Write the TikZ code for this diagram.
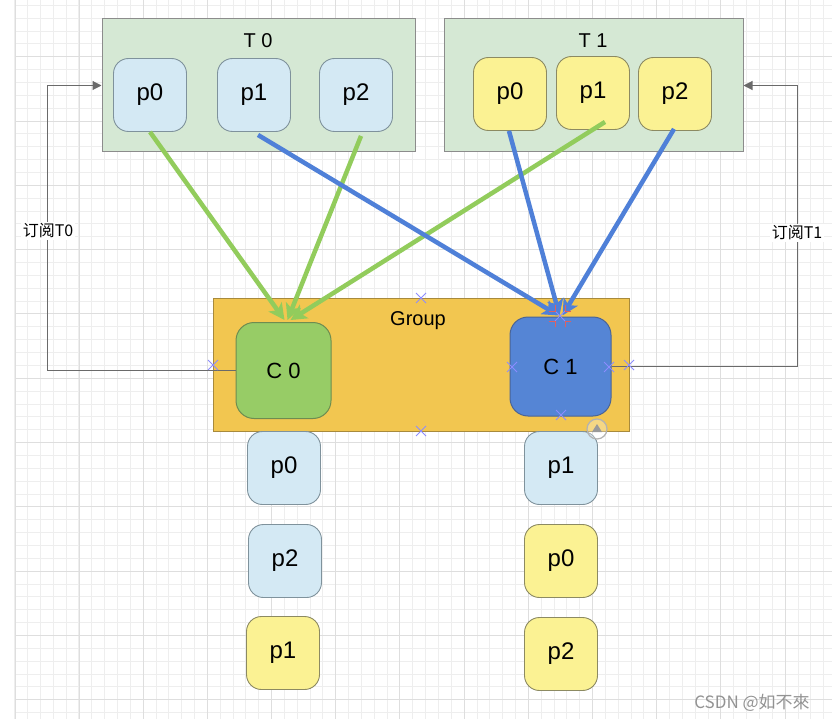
\documentclass[tikz,border=0pt]{standalone}
\usepackage{fontspec}
\setmainfont{Liberation Sans}
\newfontfamily\cjk{Noto Sans CJK SC}
\usetikzlibrary{arrows.meta,calc}
\definecolor{tfill}{HTML}{D5E8D4}
\definecolor{tline}{HTML}{8C8C8C}
\definecolor{pbluefill}{HTML}{D4E9F4}
\definecolor{pblueline}{HTML}{7F929C}
\definecolor{pyelfill}{HTML}{FBF293}
\definecolor{pyelline}{HTML}{8C8A62}
\definecolor{grpfill}{HTML}{F2C650}
\definecolor{grpline}{HTML}{A88A3C}
\definecolor{cgfill}{HTML}{97CC66}
\definecolor{cgline}{HTML}{6E8C50}
\definecolor{cbfill}{HTML}{5585D5}
\definecolor{cbline}{HTML}{4A6496}
\definecolor{garrow}{HTML}{92CC5C}
\definecolor{barrow}{HTML}{4F80D8}
\definecolor{gridminor}{HTML}{EEEEEE}
\definecolor{gridmajor}{HTML}{DEDEDE}
\definecolor{subline}{HTML}{6A6A6A}
\definecolor{selmark}{HTML}{8C8CFF}
\definecolor{selred}{HTML}{E06060}
\begin{document}
\begin{tikzpicture}[x=1pt,y=-1pt,
  tbox/.style={draw=tline,fill=tfill,line width=1pt,minimum width=#1,minimum height=133pt,inner sep=0pt},
  pbase/.style={rounded corners=15pt,line width=0.9pt,minimum width=73pt,minimum height=73pt,inner sep=0pt,font=\fontsize{24}{28}\selectfont},
  pblue/.style={pbase,draw=pblueline,fill=pbluefill},
  pyel/.style={pbase,draw=pyelline,fill=pyelfill},
  titletext/.style={font=\fontsize{20}{24}\selectfont,inner sep=0pt},
  grp/.style={draw=grpline,fill=grpfill,line width=1pt,minimum width=416pt,minimum height=133pt,inner sep=0pt},
  cons/.style={rounded corners=18pt,line width=1pt,minimum height=96pt,inner sep=0pt,font=\fontsize{22}{26}\selectfont},
  garr/.style={draw=garrow,line width=4.5pt,-{Stealth[length=16pt,width=16pt,inset=4pt]}},
  barr/.style={draw=barrow,line width=4.5pt,-{Stealth[length=16pt,width=16pt,inset=4pt]}},
  sub/.style={draw=subline,line width=1.1pt,-{Triangle[length=9pt,width=9pt]}},
  sublabel/.style={fill=white,inner sep=2pt,font=\cjk\fontsize{16}{19}\selectfont},
  selx/.style={draw=selmark,line width=0.9pt}
]
\useasboundingbox (0,0) rectangle (832,722);
\fill[white] (0,0) rectangle (832,722);
% grid
\foreach \k in {0,...,64} {\pgfmathsetmacro\gx{round(14.3+12.84*\k)+0.5}\draw[gridminor,line width=1pt] (\gx,0) -- (\gx,719);}
\foreach \k in {-1,...,55} {\pgfmathsetmacro\gy{round(699.3-12.86*\k)+0.5}\draw[gridminor,line width=1pt] (15.5,\gy) -- (832,\gy);}
\foreach \k in {1,...,13} {\pgfmathsetmacro\gx{round(14.3+64.2*\k)+0.5}\draw[gridmajor,line width=1pt] (\gx,0) -- (\gx,719);}
\foreach \k in {0,...,10} {\pgfmathsetmacro\gy{round(699.3-64.3*\k)+0.5}\draw[gridmajor,line width=1pt] (15.5,\gy) -- (832,\gy);}
\draw[gridmajor,line width=1pt] (15.5,0) -- (15.5,719);

% topics
\node[tbox=313pt] (t0) at (258.5,85.5) {};
\node[titletext] (t0lbl) at (258,41) {T 0};
\node[pblue] (t0p0) at (150,95) {p0};
\node[pblue] (t0p1) at (254,95) {p1};
\node[pblue] (t0p2) at (356,95) {p2};

\node[tbox=299pt] (t1) at (593.5,85.5) {};
\node[titletext] (t1lbl) at (593,41) {T 1};
\node[pyel] (t1p0) at (510,94) {p0};
\node[pyel] (t1p1) at (593,93) {p1};
\node[pyel] (t1p2) at (675,94) {p2};

% group
\node[grp] (grp) at (421,364.5) {};
\node[titletext] (grplbl) at (418,321) {Group};
\node[cons,draw=cgline,fill=cgfill,minimum width=95pt] (c0) at (283.5,370.5) {C 0};
\node[cons,draw=cbline,fill=cbfill,minimum width=101pt,minimum height=99pt] (c1) at (560.5,366.5) {C 1};

% assigned partitions
\node[pblue] (a0) at (284,468) {p0};
\node[pblue] (a1) at (285,561) {p2};
\node[pyel] (a2) at (283,653) {p1};
\node[pblue] (b0) at (561,468) {p1};
\node[pyel] (b1) at (561,561) {p0};
\node[pyel] (b2) at (561,654) {p2};

% subscription lines
\draw[sub] (c0.west) -| ([xshift=-54pt]t0.west) -- (t0.west);
\node[sublabel] (s0) at (48,231) {订阅T0};
\draw[sub] (c1.east) -| ([xshift=54pt]t1.east) -- (t1.east);
\node[sublabel] (s1) at (797,233) {订阅T1};

% assignment arrows
\draw[garr] (t0p0.south) -- ([xshift=1pt,yshift=2pt]c0.north);
\draw[garr] ([shift={(5,4)}]t0p2.south) -- ([xshift=4pt,yshift=2pt]c0.north);
\draw[garr] ([shift={(12,-8)}]t1p1.south) -- ([xshift=7pt,yshift=2pt]c0.north);
\draw[barr] ([shift={(4,3)}]t0p1.south) -- ([xshift=-2pt,yshift=1pt]c1.north);
\draw[barr] ([shift={(-1,0)}]t1p0.south) -- ([xshift=-1pt,yshift=1pt]c1.north);
\draw[barr] ([shift={(-1,-2)}]t1p2.south) -- ([xshift=2pt,yshift=1pt]c1.north);

% editor selection marks
\foreach \p in {(421,298),(213,365),(421,431),(629,365),(512,367),(609,367),(561,415),(560,316)} {
  \draw[selx] \p ++(-5,-5) -- ++(10,10) \p ++(-5,5) -- ++(10,-10);
}
\draw[selred,line width=1pt] (549,311) -- (555,311) -- (555,305) (565,305) -- (565,311) -- (571,311)
  (549,321) -- (555,321) -- (555,327) (565,327) -- (565,321) -- (571,321);
\draw[gray!60,line width=1.2pt,fill=white,fill opacity=0.3] (597,429) circle (10pt);
\fill[gray!80] (592,432) -- (602,432) -- (597,424) -- cycle;

% watermark
\node[font=\cjk\fontsize{17}{20}\selectfont,text=gray!85,inner sep=0pt] (wm) at (752,703) {CSDN @如不來};
\end{tikzpicture}
\end{document}
